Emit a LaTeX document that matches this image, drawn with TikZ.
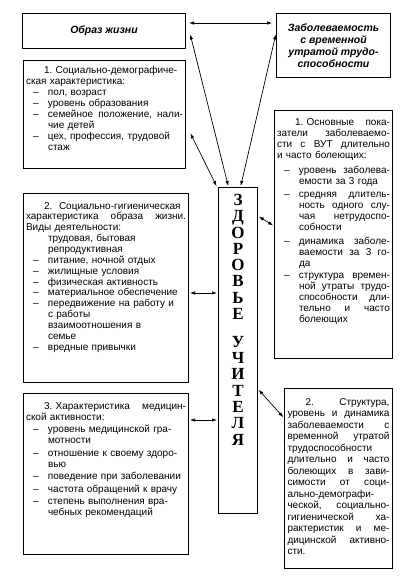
\documentclass[tikz,border=0pt]{standalone}
\usepackage{fontspec}
\setmainfont{Liberation Sans}
\newfontfamily\wordfont{Liberation Serif}
\usepackage{xcolor}
\usepackage{tikz}
\usetikzlibrary{arrows.meta}

\setlength{\parindent}{0pt}
\newcommand{\firstline}{\hspace*{18pt}}
\newcommand{\dashitem}{\hspace*{7pt}\makebox[15pt][l]{\textendash}}
\newcommand{\contline}{\hspace*{22pt}}

\begin{document}
\begin{tikzpicture}[x=1pt, y=-1pt, >={Latex[length=5pt,width=3.5pt]},
    panel/.style={draw, line width=1pt, anchor=north west, inner xsep=2.5pt, inner ysep=0pt,
                  align=left, font=\fontsize{10}{11}\selectfont},
    heading/.style={draw, line width=1pt, anchor=north west, align=center, inner sep=2pt,
                    font=\fontsize{10.5}{12}\selectfont\bfseries\itshape},
    link/.style={<->, line width=0.7pt, shorten <=1pt, shorten >=1pt}]
    \path[use as bounding box, fill=white] (0,0) rectangle (400,577);

    % Top headings
    \node[heading, minimum width=163pt, minimum height=35pt] (life) at (22,13) {Образ жизни};
    \node[heading, minimum width=114pt, minimum height=64pt] (morb) at (276,13)
        {Заболеваемость\\ с временной\\ утратой трудо-\\ способности};

    % Left column
    \node[panel, text width=157pt, text height=12.6pt, text depth=95.4pt] (sd) at (23,60)
        {\firstline 1.\ Социально-демографиче-\\
         ская характеристика:\\
         \dashitem пол, возраст\\
         \dashitem уровень образования\\
         \dashitem семейное\hfill положение,\hfill нали-\\
         \contline чие детей\\
         \dashitem цех, профессия, трудовой\\
         \contline стаж};

    \node[panel, text width=160pt, text height=15.6pt, text depth=173.4pt,
          font=\fontsize{10}{10.85}\selectfont] (sg) at (23,193)
        {\firstline 2.\ \ Социально-гигиеническая\\
         характеристика\hfill образа\hfill жизни.\\
         Виды деятельности:\\
         \contline трудовая, бытовая\\
         \contline репродуктивная\\
         \dashitem питание, ночной отдых\\
         \dashitem жилищные условия\\
         \dashitem физическая активность\\
         \dashitem материальное обеспечение\\
         \dashitem передвижение на работу и\\
         \contline с работы\\
         \contline взаимоотношения в\\
         \contline семье\\
         \dashitem вредные привычки};

    \node[panel, text width=160pt, text height=15.6pt, text depth=145.4pt] (med) at (23,393)
        {\firstline 3.\ Характеристика\hfill медицин-\\
         ской активности:\\[1.5pt]
         \dashitem уровень медицинской гра-\\
         \contline мотности\\[1.5pt]
         \dashitem отношение к своему здоро-\\
         \contline вью\\[1.5pt]
         \dashitem поведение при заболевании\\[1.5pt]
         \dashitem частота обращений к врачу\\[1.5pt]
         \dashitem степень выполнения вра-\\
         \contline чебных рекомендаций};

    % Central box
    \node[draw, line width=1pt, anchor=north west, inner sep=0pt,
          minimum width=39pt, minimum height=326pt] (health) at (218,187) {};
    \node[anchor=north, inner sep=0pt, text width=30pt, align=center,
          font=\wordfont\bfseries\fontsize{17}{16.3}\selectfont] (word) at ([yshift=-7pt]health.north)
        {З\\Д\\О\\Р\\О\\В\\Ь\\Е\\[11.5pt]У\\Ч\\И\\Т\\Е\\Л\\Я};

    % Right column
    \node[panel, text width=113pt, text height=14.6pt, text depth=233.4pt] (ind) at (274,110)
        {\firstline 1.\ Основные\hfill пока-\\
         затели\hfill заболеваемо-\\
         сти\hfill с\hfill ВУТ\hfill длительно\\
         и часто болеющих:\\[4pt]
         \dashitem уровень\hfill заболева-\\
         \contline емости за 3 года\\[2pt]
         \dashitem средняя\hfill длитель-\\
         \contline ность\hfill одного\hfill слу-\\
         \contline чая\hfill нетрудоспо-\\
         \contline собности\\[3pt]
         \dashitem динамика\hfill заболе-\\
         \contline ваемости\hfill за\hfill 3\hfill го-\\
         \contline да\\[1pt]
         \dashitem структура\hfill времен-\\
         \contline ной\hfill утраты\hfill трудо-\\
         \contline способности\hfill дли-\\
         \contline тельно\hfill и\hfill часто\\
         \contline болеющих};

    \node[panel, inner xsep=3pt, text width=102pt, text height=16.6pt, text depth=163.4pt,
          font=\fontsize{10}{11.5}\selectfont] (struct) at (284,388)
        {\firstline 2.\hfill Структура,\\
         уровень\hfill и\hfill динамика\\
         заболеваемости\hfill с\\
         временной\hfill утратой\\
         трудоспособности\\
         длительно\hfill и\hfill часто\\
         болеющих\hfill в\hfill зави-\\
         симости\hfill от\hfill соци-\\
         ально-демографи-\\
         ческой,\hfill социально-\\
         гигиенической\hfill ха-\\
         рактеристик\hfill и\hfill ме-\\
         дицинской\hfill активно-\\
         сти.};

    % Connectors
    \draw[link, shorten <=3pt, shorten >=4pt] (life.east |- 0,23) -- (morb.west |- 0,23);
    \draw[link] ([xshift=4pt,yshift=-2.5pt]life.east) -- ([xshift=-9.5pt]health.north);
    \draw[link] ([yshift=12pt]morb.west) -- ([xshift=2.5pt]health.north);
    \draw[link] ([xshift=4pt,yshift=-18pt]sd.east) -- ([xshift=-1pt]health.north west);
    \draw[link] (sg.east |- 0,293) -- (health.west |- 0,293);
    \draw[link] (med.east |- 0,420) -- (health.west |- 0,420);
    \draw[link] (health.east |- 0,216) -- (ind.west |- 0,226);
    \draw[link] (health.east |- 0,389) -- (struct.west |- 0,418);
\end{tikzpicture}
\end{document}
